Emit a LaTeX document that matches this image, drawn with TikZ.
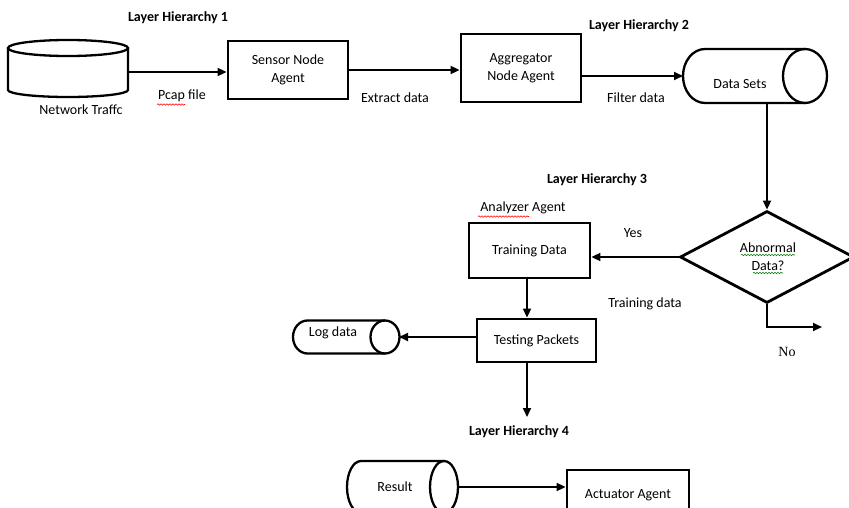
\documentclass[tikz,border=0pt]{standalone}
\usepackage{fontspec}
\setmainfont{Carlito}
\newfontfamily\serifno{Liberation Serif}
\usetikzlibrary{arrows.meta,shapes.geometric,decorations.pathmorphing}

\tikzset{
  box/.style={draw, line width=2.8pt, rectangle, inner sep=0pt, align=center, font=\fontsize{14}{18}\selectfont},
  hold/.style={inner sep=0pt, outer sep=0pt},
  cyl/.style={draw, line width=2.3pt},
  wire/.style={line width=1.7pt},
  arr/.style={wire, -{Triangle[length=9pt,width=8pt]}},
  lbl/.style={inner sep=0pt, font=\fontsize{14}{18}\selectfont},
  layer/.style={inner sep=0pt, font=\bfseries\fontsize{14}{18}\selectfont},
  spell/.style={line width=0.6pt, decorate, decoration={snake, amplitude=0.7pt, segment length=3pt}},
}

\begin{document}
\begin{tikzpicture}[x=1pt, y=-1pt]
\useasboundingbox (0,0) rectangle (849,508);
\clip (0,0) rectangle (849,508);
\fill[white] (0,0) rectangle (849,508);

% ---------- layer headings ----------
\node[layer] (lh1) at (178,18) {Layer Hierarchy 1};
\node[layer] (lh2) at (639,26) {Layer Hierarchy 2};
\node[layer] (lh3) at (597,180) {Layer Hierarchy 3};
\node[layer] (lh4) at (519,432) {Layer Hierarchy 4};

% ---------- network traffic store (upright cylinder) ----------
\draw[cyl] (8,48) -- (8,90) arc[start angle=180, end angle=360, x radius=60pt, y radius=7pt] -- (128,48);
\draw[cyl] (68,48) ellipse[x radius=60pt, y radius=8pt];
\node[hold, minimum width=120pt, minimum height=48pt] (net) at (68,72) {};
\node[lbl] (netlbl) at (81,110) {Network Traffc};

% ---------- sensor and aggregator agents ----------
\node[box, minimum width=120pt, minimum height=58pt] (sensor) at (288,70) {Sensor Node\\Agent};
\node[box, minimum width=120pt, minimum height=68pt] (aggr) at (521,68) {Aggregator\\Node Agent};

% ---------- data sets store (lying cylinder) ----------
\draw[cyl] (805,49) -- (705,49) arc[start angle=90, end angle=270, x radius=22pt, y radius=27pt] -- (805,103);
\draw[cyl] (805,76) ellipse[x radius=22pt, y radius=27pt];
\node[hold, minimum width=145pt, minimum height=54pt] (dsets) at (755.5,76) {};
\node[lbl] (dsetslbl) at (740,84) {Data Sets};

% ---------- decision ----------
\node[diamond, draw, line width=2.8pt, minimum width=174pt, minimum height=92pt, aspect=1.9, inner sep=0pt] (dec) at (767,257) {};
\node[lbl, align=center] (declbl) at (768,257) {Abnormal\\Data?};

% ---------- analyzer agent ----------
\node[lbl] (anlbl) at (523,208) {Analyzer Agent};
\node[box, minimum width=121pt, minimum height=55pt] (train) at (529.5,250.5) {Training Data};
\node[box, minimum width=119pt, minimum height=43pt] (test) at (536.5,340.5) {Testing Packets};

% ---------- log data store ----------
\draw[cyl] (385,320.5) -- (307.5,320.5) arc[start angle=90, end angle=270, x radius=14.5pt, y radius=16.5pt] -- (385,353.5);
\draw[cyl] (385,337) ellipse[x radius=14.5pt, y radius=16.5pt];
\node[hold, minimum width=106pt, minimum height=33pt] (logd) at (346,337) {};
\node[lbl] (loglbl) at (333,333) {Log data};

% ---------- result store and actuator ----------
\draw[cyl] (444,461) -- (361,461) arc[start angle=90, end angle=270, x radius=14pt, y radius=26pt] -- (444,513);
\draw[cyl] (444,487) ellipse[x radius=14pt, y radius=26pt];
\node[hold, minimum width=111pt, minimum height=52pt] (res) at (402.5,487) {};
\node[lbl] (reslbl) at (395,487) {Result};
\node[box, minimum width=122pt, minimum height=50pt] (act) at (628,495) {Actuator Agent};

% ---------- free ends ----------
\coordinate (down4) at (527,417);
\coordinate (noend) at (822,327);

% ---------- connectors ----------
\draw[arr] (net.east) -- (net.east -| sensor.west);
\draw[arr] (sensor.east) -- (sensor.east -| aggr.west);
\draw[arr] (aggr.east |- dsets.west) -- (dsets.west);
\draw[arr] (dec.north |- dsets.south) -- (dec.north);
\draw[arr] (dec.west) -- (dec.west -| train.east);
\draw[arr] ([xshift=-2.5pt]train.south) -- ([xshift=-2.5pt]train.south |- test.north);
\draw[arr] (test.west |- logd.east) -- (logd.east);
\draw[arr] (test.south -| down4) -- (down4);
\draw[arr] (dec.south) |- (noend);
\draw[arr] (res.east) -- (res.east -| act.west);

% ---------- connector labels ----------
\node[lbl] (pcap) at (182,96) {Pcap file};
\node[lbl] (extract) at (395,98) {Extract data};
\node[lbl] (filter) at (636,98) {Filter data};
\node[lbl] (yes) at (633,233) {Yes};
\node[lbl] (trdata) at (645,304) {Training data};
\node[inner sep=0pt, font=\serifno\fontsize{14}{18}\selectfont] (no) at (787,352) {No};

% ---------- proofing marks under flagged words ----------
\draw[spell, red] (157,104.5) -- (185,104.5);
\draw[spell, red] (478,216.5) -- (529,216.5);
\draw[spell, green!50!black] (741,255) -- (795,255);
\draw[spell, green!50!black] (753,273) -- (783,273);
\end{tikzpicture}
\end{document}
